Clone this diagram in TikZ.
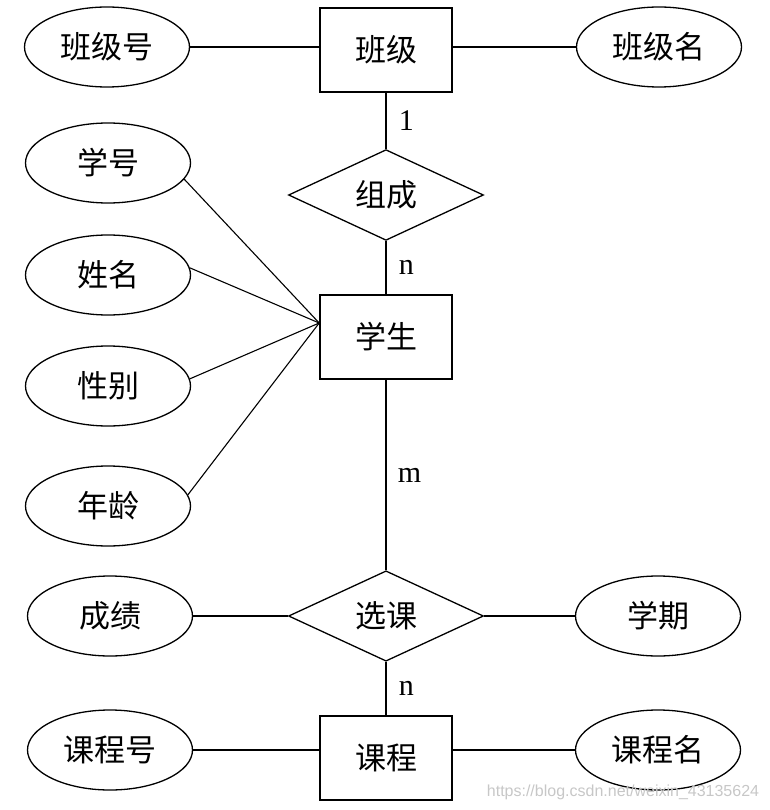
\documentclass[tikz,border=0pt]{standalone}
\usepackage{fontspec}
\setmainfont{Liberation Serif}
\newfontfamily\cjk{Noto Sans CJK SC}
\newfontfamily\wmfont{Liberation Sans}
\usetikzlibrary{shapes.geometric}
\begin{document}
\begin{tikzpicture}
[x=1pt,y=-1pt,
  entitydecorate/.style={shape=rectangle,draw,line width=1.6pt,minimum width=132pt,%
    minimum height=84pt,font=\cjk\fontsize{31}{36}\selectfont},%
  reldecorate/.style={shape=diamond,draw,line width=1.3pt,inner sep=0pt,minimum width=195pt,%
    minimum height=84pt,font=\cjk\fontsize{31}{36}\selectfont},%
  attrdecorate/.style={shape=ellipse,draw,line width=1.3pt,inner sep=0pt,minimum width=165pt,%
    minimum height=80pt,font=\cjk\fontsize{31}{36}\selectfont},%
  linedecorate/.style={-,line width=1.6pt},%
  thindecorate/.style={-,line width=1.1pt},%
  carddecorate/.style={font=\fontsize{30}{34}\selectfont,inner sep=0pt}]
\useasboundingbox (0,0) rectangle (769,810);
%% entities
\foreach \nodename/\x/\y/\name in {banji/386/50/班级, xuesheng/386/337/学生,
  kecheng/386/758/课程}
{
  \node (\nodename) at (\x,\y) [entitydecorate] {\name};
}
%% relationships
\foreach \nodename/\x/\y/\name in {zucheng/386/195/组成, xuanke/386/616/选课}
{
  \node (\nodename) at (\x,\y) [reldecorate] {\name};
}
%% attributes
\foreach \nodename/\x/\y/\name in {banjihao/107/47/班级号, banjiming/659/47/班级名,
  xuehao/108/163/学号, xingming/108/275/姓名, xingbie/108/386/性别,
  nianling/108/506/年龄, chengji/110/616/成绩, xueqi/658/616/学期,
  kechenghao/110/750/课程号, kechengming/658/750/课程名}
{
  \node (\nodename) at (\x,\y) [attrdecorate] {\name};
}
\coordinate (xueshengin) at ([yshift=14pt]xuesheng.west);
%% edges or lines
\path
\foreach \startnode/\endnode in {banjihao/banji.west, banjiming/banji.east,
  kechenghao/kecheng.west, kechengming/kecheng.east}
{
  (\startnode) edge[linedecorate] (\startnode -| \endnode)
};
\path
\foreach \startnode/\endnode in {chengji/xuanke, xueqi/xuanke}
{
  (\startnode) edge[linedecorate] (\endnode)
};
\path
\foreach \startnode in {xuehao.-12, xingming.5, xingbie.5, nianling.8}
{
  (\startnode) edge[thindecorate] (xueshengin)
};
\path
  (banji) edge[linedecorate] node[carddecorate,right=12pt] {1} (zucheng)
  (zucheng) edge[linedecorate] node[carddecorate,right=12pt] {n} (xuesheng)
  (xuesheng) edge[linedecorate] node[carddecorate,right=11pt] {m} (xuanke)
  (xuanke) edge[linedecorate] node[carddecorate,right=12pt] {n} (kecheng);
%% watermark
\node (watermark) at (623,792) [font=\wmfont\fontsize{16}{18}\selectfont,text=black!22]
  {https://blog.csdn.net/weixin\_43135624};
\end{tikzpicture}
\end{document}
